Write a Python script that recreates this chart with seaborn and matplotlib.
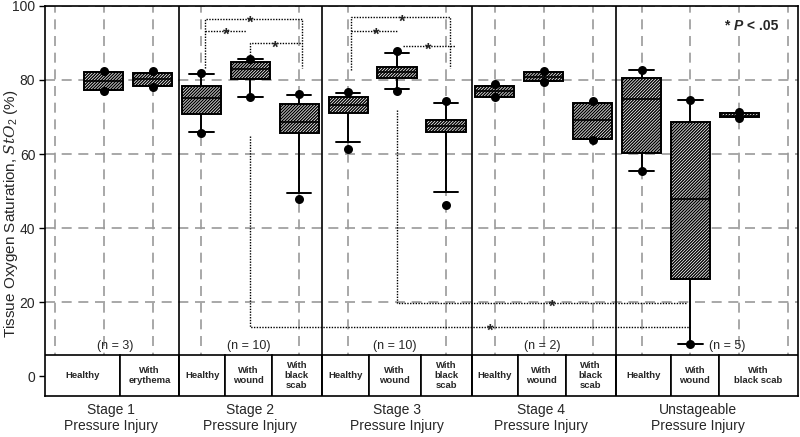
import numpy as np
import pandas as pd
import matplotlib
matplotlib.use("Agg")
import matplotlib.pyplot as plt
from matplotlib.patches import Rectangle
import seaborn as sns

# ---- data ----
stages = ["Stage 1\nPressure Injury", "Stage 2\nPressure Injury", "Stage 3\nPressure Injury",
          "Stage 4\nPressure Injury", "Unstageable\nPressure Injury"]
n_labels = ["(n = 3)", "(n = 10)", "(n = 10)", "(n = 2)", "(n = 5)"]
conditions = [
    ["Healthy", "With\nerythema"],
    ["Healthy", "With\nwound", "With\nblack\nscab"],
    ["Healthy", "With\nwound", "With\nblack\nscab"],
    ["Healthy", "With\nwound", "With\nblack\nscab"],
    ["Healthy", "With\nwound", "With\nblack scab"],
]

q1 = [77.2, 78.4, 70.9, 80.2, 65.8, 71.0, 80.6, 66.0, 75.5, 79.8, 64.1, 60.4, 26.3, 69.9]
med = [79.7, 80.2, 75.0, 83.0, 68.6, 73.2, 82.1, 67.7, 76.9, 80.9, 69.2, 74.8, 47.8, 70.4]
q3 = [82.1, 82.0, 78.4, 84.9, 73.4, 75.5, 83.4, 69.2, 78.4, 82.1, 73.9, 80.5, 68.6, 71.0]
whis_lo = [77.2, 78.4, 66.0, 75.5, 49.4, 63.2, 77.5, 49.8, 75.5, 79.8, 64.1, 55.4, 8.6, 69.9]
whis_hi = [82.1, 82.0, 81.6, 85.6, 75.9, 76.6, 87.3, 73.9, 78.4, 82.1, 73.9, 82.8, 74.6, 71.0]
min_pt = [77.1, 78.2, 65.8, 75.5, 47.8, 61.4, 77.1, 46.1, 75.3, 79.5, 63.8, 55.4, 8.6, 69.6]
max_pt = [82.4, 82.3, 81.9, 85.6, 76.1, 76.7, 87.9, 74.3, 78.9, 82.4, 74.4, 82.8, 74.6, 71.4]

# significance brackets: x from, x to, height, left leg end, right leg end, star x
brackets = [
    (3.07, 5.06, 96.6, 83.2, 83.2, 4.0),
    (3.07, 3.92, 93.2, None, None, 3.5),
    (4.0, 5.06, 89.9, 86.0, None, 4.51),
    (6.05, 8.09, 96.9, 82.7, 83.2, 7.1),
    (6.05, 7.0, 93.3, None, None, 6.58),
    (7.12, 8.18, 89.1, None, None, 7.63),
    (4.0, 13.0, 13.3, 65.0, None, 8.9),
    (7.0, 12.92, 19.8, 72.0, None, 10.18),
]

# ---- layout ----
positions = np.arange(1, len(med) + 1)
stage_edges = [-0.2, 2.54, 5.46, 8.53, 11.47, 15.2]
cell_edges = [[1.34], [3.49, 4.44], [6.42, 7.48], [9.47, 10.45], [12.6, 13.58]]
stage_label_x = [1.15, 4.0, 7.0, 9.95, 13.15]
n_label_x = [1.23, 3.97, 6.95, 9.97, 13.76]
y_lo, table_top = -5.4, 5.7

sns.set_style("white")
plt.rcParams['font.family'] = ['Liberation Sans', 'DejaVu Sans']
plt.rcParams['mathtext.fontset'] = 'custom'
plt.rcParams['mathtext.rm'] = 'Liberation Sans'
plt.rcParams['mathtext.it'] = 'DejaVu Serif:italic'
plt.rcParams['hatch.linewidth'] = 1.0

fig = plt.figure(figsize=(8, 4.37), dpi=100)
ax = fig.add_axes([0.05625, 0.0938, 0.94125, 0.8925])

stats = [dict(med=m, q1=a, q3=b, whislo=lo, whishi=hi, fliers=[])
         for m, a, b, lo, hi in zip(med, q1, q3, whis_lo, whis_hi)]
ax.bxp(stats, positions=positions, widths=0.8, capwidths=0.5, patch_artist=True,
       showfliers=False, manage_ticks=False, zorder=3,
       boxprops=dict(facecolor="white", edgecolor="black", hatch="/" * 11, linewidth=1.4),
       medianprops=dict(color="black", linewidth=1.2),
       whiskerprops=dict(color="black", linewidth=1.4),
       capprops=dict(color="black", linewidth=1.4))

dots = pd.DataFrame({"pos": np.concatenate([positions, positions]),
                     "val": min_pt + max_pt})
sns.scatterplot(data=dots, x="pos", y="val", color="black", s=42, edgecolor="black",
                linewidth=0, zorder=5, legend=False, ax=ax)

# brackets
for x1, x2, y, l1, l2, sx in brackets:
    xs, ys = [], []
    if l1 is not None:
        xs.append(x1); ys.append(l1)
    xs += [x1, x2]; ys += [y, y]
    if l2 is not None:
        xs.append(x2); ys.append(l2)
    ax.plot(xs, ys, color="black", lw=1.0, linestyle=(0, (1, 1)), zorder=4)
    ax.text(sx, y - 1.2, "*", ha="center", va="center", fontsize=12, fontweight="bold", zorder=6)

# table under the boxes
for k, edges in enumerate(cell_edges):
    bounds = [stage_edges[k]] + edges + [stage_edges[k + 1]]
    for j, cond in enumerate(conditions[k]):
        ax.add_patch(Rectangle((bounds[j], y_lo), bounds[j + 1] - bounds[j], table_top - y_lo,
                               facecolor="white", edgecolor="black", lw=1.2, zorder=4))
        ax.text((bounds[j] + bounds[j + 1]) / 2, (table_top + y_lo) / 2, cond, ha="center",
                va="center", fontsize=6.8, fontweight="bold", linespacing=1.2, zorder=6)
    ax.text(n_label_x[k], 8.1, n_labels[k], ha="center", va="center", fontsize=9, zorder=6)

ax.vlines(stage_edges[1:-1], y_lo, 100, color="black", lw=1.2, zorder=5)

# "* P < .05" note, P in bold italic, on a white patch
ax.add_patch(Rectangle((0.896, 91.9), 0.085, 5.4, transform=ax.get_yaxis_transform(),
                       facecolor="white", edgecolor="none", zorder=5.5))
t1 = ax.text(0.902, 94.6, "* ", transform=ax.get_yaxis_transform(),
             ha="left", va="center", fontsize=10, fontweight="bold", zorder=6)
t2 = ax.annotate("P", xy=(1, 0), xycoords=t1, ha="left", va="bottom",
                 fontsize=10, fontweight="bold", fontstyle="italic", zorder=6)
ax.annotate(" < .05", xy=(1, 0), xycoords=t2, ha="left", va="bottom",
            fontsize=10, fontweight="bold", zorder=6)

ax.set_xlim(stage_edges[0], stage_edges[-1])
ax.set_ylim(y_lo, 100)
ax.set_yticks([0, 20, 40, 60, 80, 100])
ax.set_xticks(np.arange(0, 16), minor=True)
ax.set_xticks(stage_label_x)
ax.set_xticklabels(stages, fontsize=10)
ax.tick_params(axis="x", which="both", length=0, pad=5)
ax.tick_params(axis="y", length=4, width=1, labelsize=10, pad=3, left=True, color="black")
grid_kw = dict(color="#999999", linestyle=(0, (6, 4)), linewidth=1.2)
ax.grid(axis="x", which="minor", **grid_kw)
ax.grid(axis="y", which="major", **grid_kw)
ax.grid(axis="x", which="major", visible=False)
ax.set_axisbelow(True)
for sp in ax.spines.values():
    sp.set_color("black")
    sp.set_linewidth(1.2)

ax.set_xlabel("")
ax.set_ylabel(r"Tissue Oxygen Saturation, $StO_2$ (%)", fontsize=11)
ax.yaxis.set_label_coords(-0.033, 0.467)

fig.savefig("out.png", dpi=100)
